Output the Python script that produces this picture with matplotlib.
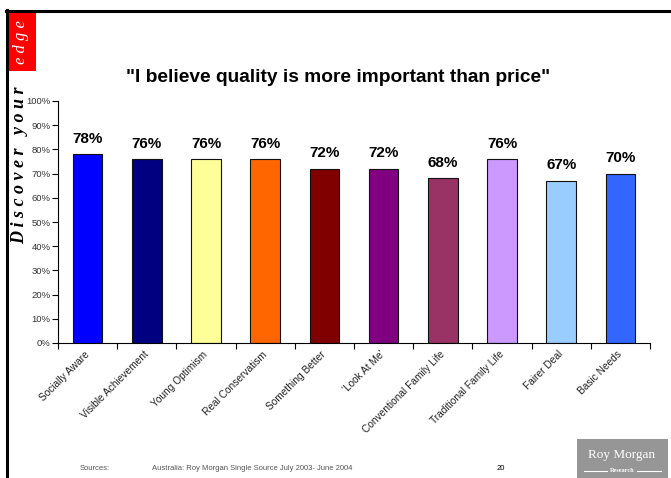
import numpy as np
import matplotlib.pyplot as plt
import matplotlib.transforms as mtransforms
from matplotlib.patches import Rectangle

segments = ["Socially Aware", "Visible Achievement", "Young Optimism",
            "Real Conservatism", "Something Better", "'Look At Me'",
            "Conventional Family Life", "Traditional Family Life",
            "Fairer Deal", "Basic Needs"]
quality_pct = [78, 76, 76, 76, 72, 72, 68, 76, 67, 70]
bar_colors = ["#0000FF", "#000080", "#FFFF99", "#FF6600", "#800000",
              "#800080", "#993366", "#CC99FF", "#99CCFF", "#3366FF"]
y_ticks = [0, 10, 20, 30, 40, 50, 60, 70, 80, 90, 100]

W, H = 671, 478
plt.rcParams['font.family'] = ['Liberation Sans', 'DejaVu Sans']

fig = plt.figure(figsize=(W / 100, H / 100), dpi=100)


def px(x0, y0, x1, y1):
    # pixel box (top-left origin) -> figure fraction rect
    return [x0 / W, 1 - y1 / H, (x1 - x0) / W, (y1 - y0) / H]


# slide frame and side branding
frame = fig.add_axes([0, 0, 1, 1])
frame.set_xlim(0, W)
frame.set_ylim(H, 0)
frame.axis('off')
frame.plot([6.5, 6.5], [10, H], color='black', lw=2.2)
frame.plot([6, W], [10.5, 10.5], color='black', lw=2.2)
frame.add_patch(Rectangle((7.5, 11.5), 28, 59, color='#FF0000', lw=0))
frame.text(21, 42, "e d g e", rotation=90, ha='center', va='center',
           color='white', fontsize=12, style='italic',
           family=['Liberation Serif', 'DejaVu Serif'])
frame.text(20, 165, "D i s c o v e r   y o u r", rotation=90, ha='center',
           va='center', color='black', fontsize=13, style='italic',
           fontweight='bold', family=['Liberation Serif', 'DejaVu Serif'])

# footer
frame.text(80, 468, "Sources:", fontsize=5.5, color='#555555', va='center')
frame.text(152, 468, "Australia: Roy Morgan Single Source July 2003- June 2004",
           fontsize=5.5, color='#555555', va='center')
frame.text(497, 469, "20", fontsize=5.5, color='black', va='center')
frame.add_patch(Rectangle((577, 439), 91, 39, color='#969696', lw=0))
frame.text(622, 455, "Roy Morgan", ha='center', va='center', color='white',
           fontsize=9.5, family=['Liberation Serif', 'DejaVu Serif'])
frame.text(622, 471, "Research", ha='center', va='center', color='white',
           fontsize=4.5, fontweight='bold',
           family=['Liberation Serif', 'DejaVu Serif'])
frame.plot([584, 607], [471, 471], color='white', lw=0.8)
frame.plot([637, 661], [471, 471], color='white', lw=0.8)

# title
frame.text(338, 77, '"I believe quality is more important than price"',
           ha='center', va='center', fontsize=13.8, fontweight='bold')

# bar chart
ax = fig.add_axes(px(58, 101, 650, 343))
x = np.arange(len(segments))
ax.bar(x, quality_pct, width=0.5, color=bar_colors, edgecolor='#111111',
       linewidth=0.8)
for xi, v in zip(x, quality_pct):
    ax.text(xi, v + 3.5, f"{v}%", ha='center', va='bottom', fontsize=11,
            fontweight='bold')

ax.set_xlim(-0.5, len(segments) - 0.5)
ax.set_ylim(0, 100)
ax.set_yticks(y_ticks)
ax.set_yticklabels([f"{t}%" for t in y_ticks], fontsize=6.8, color='#333333')
ax.set_xticks(x)
ax.set_xticklabels(segments, rotation=45, ha='right', va='center',
                   rotation_mode='anchor', fontsize=7.3, color='#222222')
shift = mtransforms.ScaledTranslation(-5 / 100, 0, fig.dpi_scale_trans)
for lbl in ax.get_xticklabels():
    lbl.set_transform(lbl.get_transform() + shift)
ax.set_xticks(np.arange(-0.5, len(segments)), minor=True)
ax.tick_params(axis='x', which='major', length=0, pad=7)
ax.tick_params(axis='x', which='minor', length=4, width=0.8)
ax.tick_params(axis='y', length=4, width=0.8, pad=1.5)
for side in ('top', 'right'):
    ax.spines[side].set_visible(False)
for side in ('left', 'bottom'):
    ax.spines[side].set_linewidth(0.8)

fig.savefig("out.png", dpi=100)
